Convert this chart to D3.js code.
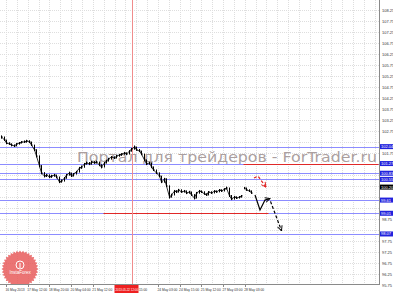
<!DOCTYPE html>
<html><head><meta charset="utf-8">
<script src="https://cdn.jsdelivr.net/npm/d3@7"></script>
<style>html,body{margin:0;padding:0;background:#fff;overflow:hidden}</style>
</head><body>
<svg id="c" width="393" height="293"></svg>
<script>
// ---- data ----
const closes=[102.48,102.34,102.20,102.16,102.11,102.07,102.16,102.20,102.25,102.25,
102.30,102.25,102.11,101.89,101.61,101.16,100.84,100.70,100.75,100.66,
100.70,100.75,100.66,100.43,100.48,100.61,100.75,100.84,100.70,100.80,
100.89,101.07,101.11,101.25,101.30,101.25,101.34,101.30,101.34,101.20,
101.11,101.30,101.39,101.48,101.57,101.52,101.61,101.66,101.70,101.75,
101.70,101.84,101.93,102.02,101.89,101.84,101.70,101.43,101.25,101.30,
101.11,100.98,100.84,100.70,100.43,100.57,100.25,99.75,99.84,100.02,
99.98,100.07,99.98,100.02,99.93,99.98,99.84,99.70,99.93,100.02,
99.98,99.89,99.84,99.98,99.93,100.02,99.98,100.07,100.02,100.11,
100.16,99.80,99.66,99.75,99.70,99.75,99.80,100.16,100.07,100.02,99.93];
const highs=[102.55,102.50,102.36,102.24,102.19,102.14,102.20,102.25,102.29,102.32,
102.35,102.33,102.27,102.13,101.92,101.64,101.20,100.88,100.80,100.78,
100.76,100.80,100.77,100.68,100.55,100.66,100.80,100.90,100.86,100.84,
100.94,101.12,101.18,101.30,101.36,101.34,101.39,101.38,101.40,101.36,
101.24,101.34,101.44,101.53,101.61,101.60,101.66,101.71,101.74,101.80,
101.78,101.88,101.98,102.09,102.04,101.93,101.86,101.72,101.46,101.35,
101.32,101.14,101.00,100.87,100.72,100.62,100.60,100.28,99.90,100.07,
100.06,100.12,100.10,100.07,100.05,100.03,100.00,99.88,99.98,100.07,
100.05,100.01,99.92,100.02,100.01,100.06,100.05,100.11,100.10,100.15,
100.22,100.18,99.84,99.80,99.78,99.79,99.84,100.20,100.18,100.10,100.05];
const lows=[102.40,102.30,102.15,102.12,102.05,102.02,102.05,102.13,102.18,102.21,
102.22,102.20,102.07,101.84,101.55,101.10,100.78,100.64,100.66,100.61,
100.62,100.67,100.60,100.38,100.40,100.45,100.58,100.72,100.66,100.68,
100.77,100.86,101.03,101.08,101.22,101.20,101.22,101.26,101.27,101.15,
101.05,101.09,101.27,101.36,101.45,101.48,101.50,101.58,101.62,101.67,
101.65,101.68,101.81,101.90,101.85,101.79,101.65,101.38,101.20,101.22,
101.06,100.93,100.79,100.65,100.38,100.40,100.20,99.68,99.72,99.82,
99.93,99.95,99.94,99.95,99.88,99.90,99.80,99.64,99.68,99.90,
99.93,99.85,99.80,99.82,99.89,99.91,99.94,99.96,99.98,100.00,
100.09,99.75,99.61,99.63,99.66,99.68,99.72,100.10,100.03,99.98,99.89];
const gapBefore=[97];

const priceTicks=[95.75,96.25,96.75,97.25,97.75,98.25,98.75,99.25,99.75,100.25,100.75,
101.25,101.75,102.25,102.75,103.25,103.75,104.25,104.75,105.25,105.75,106.25,106.75,
107.25,107.75,108.25,108.75];
const timeLabels=["16 May 2013","17 May 12:00","18 May 20:00","20 May 04:00","21 May 12:00",
"15:00","24 May 03:00","24 May 15:00","25 May 12:00","27 May 03:00","28 May 03:00"];
const timeLabelSlots=[0,2,4,6,8,12.3,14,16,18,20,22];
const gridSlots=[0,1,2,3,4,5,6,7,8,9,10,11,12,13,14,15,16,17,18,19,20,21,22,23,24,25,26,27,28,29,30,31,32,33,34];

const blueLevels=[102.04,101.27,100.83,100.55,99.61,99.01,98.07];
const redLevels=[101.24,99.02];
const redFrom=[97,41];
const redTo=[151,107];
const currentPrice=100.20;
const markerBar=52.2;
const markerLabel="2013.05.22 12:00";

const fcBlackBar=[101.6,103.6,105.6,107.6];
const fcBlackPrice=[99.84,99.16,99.61,99.68];
const fcDashBar=[107.8,112.2];
const fcDashPrice=[99.55,98.22];
const fcRedBar=[101.2,102.8,106.0];
const fcRedPrice=[100.61,100.70,100.20];

const watermark="Портал для трейдеров - ForTrader.ru";

// ---- scales ----
const W=393,H=293, plotR=379, plotB=284;
const y=d3.scaleLinear().domain([95.75,108.75]).range([285,-1]);
const x=d3.scaleLinear().domain([0,100]).range([1,251]);
const slot=d3.scaleLinear().domain([0,34]).range([6,6+34*10.85]);

const svg=d3.select("#c");
svg.append("rect").attr("width",W).attr("height",H).attr("fill","#fff");

const defs=svg.append("defs");
defs.append("clipPath").attr("id","plot").append("rect").attr("x",0).attr("y",0).attr("width",plotR).attr("height",plotB);
function marker(id,color){
  defs.append("marker").attr("id",id).attr("viewBox","0 0 10 10").attr("refX",9).attr("refY",5)
   .attr("markerWidth",5).attr("markerHeight",5).attr("orient","auto")
   .append("path").attr("d","M1,1 L9,5 L1,9").attr("fill","none").attr("stroke",color).attr("stroke-width",1.6);
}
marker("ab","#000"); marker("ar","#e02020");

const g=svg.append("g").attr("clip-path","url(#plot)");

// grid
g.selectAll(".hg").data(priceTicks).join("line")
 .attr("x1",0).attr("x2",plotR).attr("y1",d=>Math.round(y(d))+0.5).attr("y2",d=>Math.round(y(d))+0.5)
 .attr("stroke","#dedede").attr("stroke-dasharray","1,1");
g.selectAll(".vg").data(gridSlots).join("line")
 .attr("y1",0).attr("y2",plotB).attr("x1",d=>Math.round(slot(d))+0.5).attr("x2",d=>Math.round(slot(d))+0.5)
 .attr("stroke","#dedede").attr("stroke-dasharray","1,1");

// watermark
g.append("text").attr("x",77).attr("y",162).attr("font-family","DejaVu Sans").attr("font-size",14.5)
 .attr("textLength",300).attr("lengthAdjust","spacingAndGlyphs")
 .attr("fill","#ab9f9f").text(watermark);

// logo
const logo=g.append("g").attr("transform","translate(20,269)").attr("opacity",0.85);
const teeth=d3.range(72).map(k=>[k*Math.PI*2/72, k%2?16.5:18.5]);
logo.append("path").attr("d",d3.lineRadial().curve(d3.curveLinearClosed)(teeth)).attr("fill","#e85c5c");
logo.append("circle").attr("cy",-4).attr("r",4).attr("fill","none").attr("stroke","#fff").attr("stroke-width",1);
logo.append("line").attr("x1",0).attr("x2",0).attr("y1",-6).attr("y2",-1).attr("stroke","#fff").attr("stroke-width",1);
logo.append("text").attr("y",5).attr("text-anchor","middle").attr("font-family","Liberation Sans").attr("font-size",4.5).attr("fill","#fff").text("InstaForex");

// level lines
g.selectAll(".bl").data(blueLevels).join("line")
 .attr("x1",0).attr("x2",plotR).attr("y1",d=>Math.round(y(d))+0.5).attr("y2",d=>Math.round(y(d))+0.5)
 .attr("stroke","#8c8cff").attr("stroke-width",1);
g.selectAll(".rl").data(redLevels).join("line")
 .attr("x1",(d,i)=>x(redFrom[i])).attr("x2",(d,i)=>x(redTo[i]))
 .attr("y1",d=>Math.round(y(d))+0.5).attr("y2",d=>Math.round(y(d))+0.5)
 .attr("stroke","#e02828").attr("stroke-width",1);

// marker vertical line
g.append("line").attr("x1",Math.round(x(markerBar))+0.5).attr("x2",Math.round(x(markerBar))+0.5)
 .attr("y1",0).attr("y2",plotB).attr("stroke","#f08c8c").attr("stroke-width",1);

// bars
const bars=g.append("g").attr("stroke","#000").attr("stroke-width",1);
closes.forEach((c,i)=>{
  const xi=Math.round(x(i))+0.5;
  bars.append("line").attr("x1",xi).attr("x2",xi).attr("y1",y(highs[i])).attr("y2",y(lows[i]));
  bars.append("line").attr("x1",xi).attr("x2",xi+1.2).attr("y1",y(c)).attr("y2",y(c));
  if(i>0 && !gapBefore.includes(i)){
    bars.append("line").attr("x1",Math.round(x(i-1))+0.5).attr("x2",xi).attr("y1",y(closes[i-1])).attr("y2",y(c)).attr("stroke-width",0.8);
  }
});

// forecast
const ln=d3.line();
g.append("path").attr("d",ln(fcBlackBar.map((b,i)=>[x(b),y(fcBlackPrice[i])])))
 .attr("fill","none").attr("stroke","#000").attr("stroke-width",1.2).attr("marker-end","url(#ab)");
g.append("path").attr("d",ln(fcDashBar.map((b,i)=>[x(b),y(fcDashPrice[i])])))
 .attr("fill","none").attr("stroke","#000").attr("stroke-width",1.2).attr("stroke-dasharray","3,2").attr("marker-end","url(#ab)");
g.append("path").attr("d",ln(fcRedBar.map((b,i)=>[x(b),y(fcRedPrice[i])])))
 .attr("fill","none").attr("stroke","#e02020").attr("stroke-width",1.2).attr("stroke-dasharray","3,2").attr("marker-end","url(#ar)");

// axes lines
svg.append("line").attr("x1",plotR+0.5).attr("x2",plotR+0.5).attr("y1",0).attr("y2",plotB+1).attr("stroke","#8a8a8a");
svg.append("line").attr("x1",0).attr("x2",plotR+1).attr("y1",plotB+0.5).attr("y2",plotB+0.5).attr("stroke","#8a8a8a");

// right axis labels (hidden where a level box sits, as in the terminal)
const boxVals=blueLevels.concat([currentPrice]);
const visTicks=priceTicks.filter(t=>y(t)>3 && boxVals.every(v=>Math.abs(y(t)-y(v))>5.5));
svg.selectAll(".pt").data(visTicks).join("text")
 .attr("x",382).attr("y",d=>y(d)+1.5).attr("font-family","Liberation Sans").attr("font-size",4)
 .attr("fill","#333").text(d=>d.toFixed(2));
// level boxes
const boxes=svg.append("g");
blueLevels.forEach(v=>{
  boxes.append("rect").attr("x",380).attr("y",y(v)-2.5).attr("width",13).attr("height",5).attr("fill","#2222dd");
  boxes.append("text").attr("x",381).attr("y",y(v)+1.5).attr("font-family","Liberation Sans").attr("font-size",4).attr("fill","#fff").text(v.toFixed(2));
});
boxes.append("rect").attr("x",380).attr("y",y(currentPrice)-2.5).attr("width",13).attr("height",5).attr("fill","#000");
boxes.append("text").attr("x",381).attr("y",y(currentPrice)+1.5).attr("font-family","Liberation Sans").attr("font-size",4).attr("fill","#fff").text(currentPrice.toFixed(2));

// time labels
svg.selectAll(".tt").data(timeLabels).join("text")
 .attr("x",(d,i)=>slot(timeLabelSlots[i])-0.5).attr("y",290.5)
 .attr("font-family","Liberation Sans").attr("font-size",3.3).attr("fill","#333").text(d=>d);
svg.selectAll(".tk").data(timeLabelSlots.filter(s=>Number.isInteger(s))).join("line")
 .attr("x1",d=>Math.round(slot(d))+0.5).attr("x2",d=>Math.round(slot(d))+0.5).attr("y1",plotB).attr("y2",plotB+3).attr("stroke","#8a8a8a");
// marker label box
const mx=x(markerBar);
svg.append("rect").attr("x",mx-17).attr("y",plotB+1).attr("width",24).attr("height",8).attr("fill","#ee2020");
svg.append("text").attr("x",mx-16).attr("y",290.5).attr("font-family","Liberation Sans").attr("font-size",2.9)
 .attr("fill","#fff").text(markerLabel);
</script>
</body></html>
